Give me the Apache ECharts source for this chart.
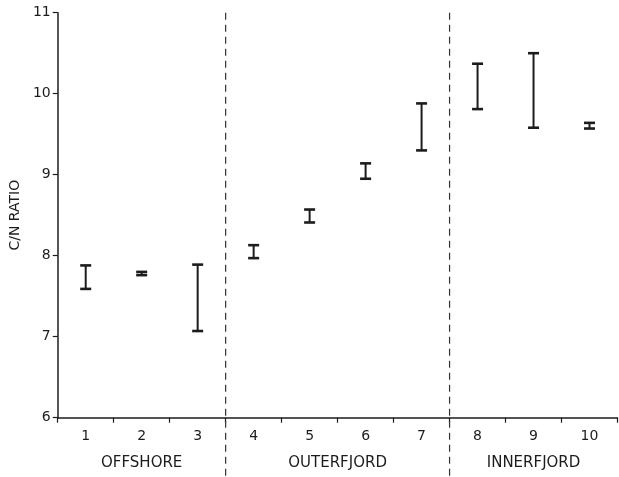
<!DOCTYPE html>
<html>
<head>
<meta charset="utf-8">
<script src="https://cdn.jsdelivr.net/npm/echarts@6/dist/echarts.min.js"></script>
<style>html,body{margin:0;padding:0;background:#fff}#c{width:619px;height:477px}</style>
</head>
<body>
<div id="c"></div>
<script>
var categories = ['1','2','3','4','5','6','7','8','9','10'];
var lowValues  = [7.59, 7.76, 7.07, 7.97, 8.41, 8.95, 9.30, 9.81, 9.58, 9.57];
var highValues = [7.88, 7.80, 7.89, 8.13, 8.57, 9.14, 9.88, 10.37, 10.50, 9.64];
var yTicks = [6, 7, 8, 9, 10, 11];
var groupNames = ['OFFSHORE', 'OUTERFJORD', 'INNERFJORD'];
var groupStart = [0, 3, 7];
var groupEnd   = [2, 6, 9];
var dividers = [2.5, 6.5];   // boundaries between groups (category index space)

var ink = '#1c1c1c';
var font = 'DejaVu Sans';

var chart = echarts.init(document.getElementById('c'));

var barData = categories.map(function (c, i) { return [i, lowValues[i], highValues[i]]; });
var groupData = groupNames.map(function (n, i) { return [groupStart[i], groupEnd[i], i]; });
var dividerData = dividers.map(function (d) { return [d]; });

function xAt(api, v) {
  var a = Math.floor(v), b = Math.ceil(v);
  var xa = api.coord([a, yTicks[0]])[0];
  var xb = api.coord([b, yTicks[0]])[0];
  return xa + (xb - xa) * (v - a);
}

chart.setOption({
  animation: false,
  backgroundColor: '#fff',
  grid: { left: 57.5, right: 1.5, top: 12.7, bottom: 59.3 },
  xAxis: {
    type: 'category',
    data: categories,
    boundaryGap: true,
    axisLine: { lineStyle: { color: ink, width: 1.5 } },
    axisTick: { show: true, interval: 0, length: 5, lineStyle: { color: ink, width: 1.2 } },
    axisLabel: { interval: 0, margin: 12, color: ink, fontSize: 14, fontFamily: font }
  },
  yAxis: {
    type: 'value',
    min: yTicks[0], max: yTicks[yTicks.length - 1], interval: 1,
    name: 'C/N RATIO',
    nameLocation: 'middle',
    nameGap: 35,
    nameTextStyle: { color: ink, fontSize: 14, fontFamily: font },
    splitLine: { show: false },
    axisLine: { show: true, lineStyle: { color: ink, width: 1.5 } },
    axisTick: { show: true, length: 5, lineStyle: { color: ink, width: 1.2 } },
    axisLabel: { margin: 7, color: ink, fontSize: 14, fontFamily: font }
  },
  series: [
    {
      type: 'custom',
      name: 'dividers',
      clip: false,
      silent: true,
      data: dividerData,
      renderItem: function (params, api) {
        var x = xAt(api, api.value(0));
        var top = api.coord([0, yTicks[yTicks.length - 1]])[1];
        return {
          type: 'line',
          shape: { x1: x, y1: top, x2: x, y2: api.getHeight() },
          style: { stroke: '#333', lineWidth: 1.2, lineDash: [7, 5] }
        };
      }
    },
    {
      type: 'custom',
      name: 'groups',
      clip: false,
      silent: true,
      data: groupData,
      renderItem: function (params, api) {
        var x1 = api.coord([api.value(0), yTicks[0]])[0];
        var x2 = api.coord([api.value(1), yTicks[0]])[0];
        var y0 = api.coord([0, yTicks[0]])[1];
        return {
          type: 'text',
          style: {
            text: groupNames[api.value(2)],
            x: (x1 + x2) / 2, y: y0 + 45,
            align: 'center', verticalAlign: 'middle',
            fill: ink, fontSize: 15, fontFamily: font
          }
        };
      }
    },
    {
      type: 'custom',
      name: 'C/N range',
      data: barData,
      renderItem: function (params, api) {
        var lo = api.coord([api.value(0), api.value(1)]);
        var hi = api.coord([api.value(0), api.value(2)]);
        var half = 5.5;
        return {
          type: 'group',
          children: [
            { type: 'line', shape: { x1: lo[0], y1: lo[1], x2: hi[0], y2: hi[1] },
              style: { stroke: ink, lineWidth: 2 } },
            { type: 'line', shape: { x1: lo[0] - half, y1: lo[1], x2: lo[0] + half, y2: lo[1] },
              style: { stroke: ink, lineWidth: 2.6 } },
            { type: 'line', shape: { x1: hi[0] - half, y1: hi[1], x2: hi[0] + half, y2: hi[1] },
              style: { stroke: ink, lineWidth: 2.6 } }
          ]
        };
      }
    }
  ]
});
</script>
</body>
</html>
